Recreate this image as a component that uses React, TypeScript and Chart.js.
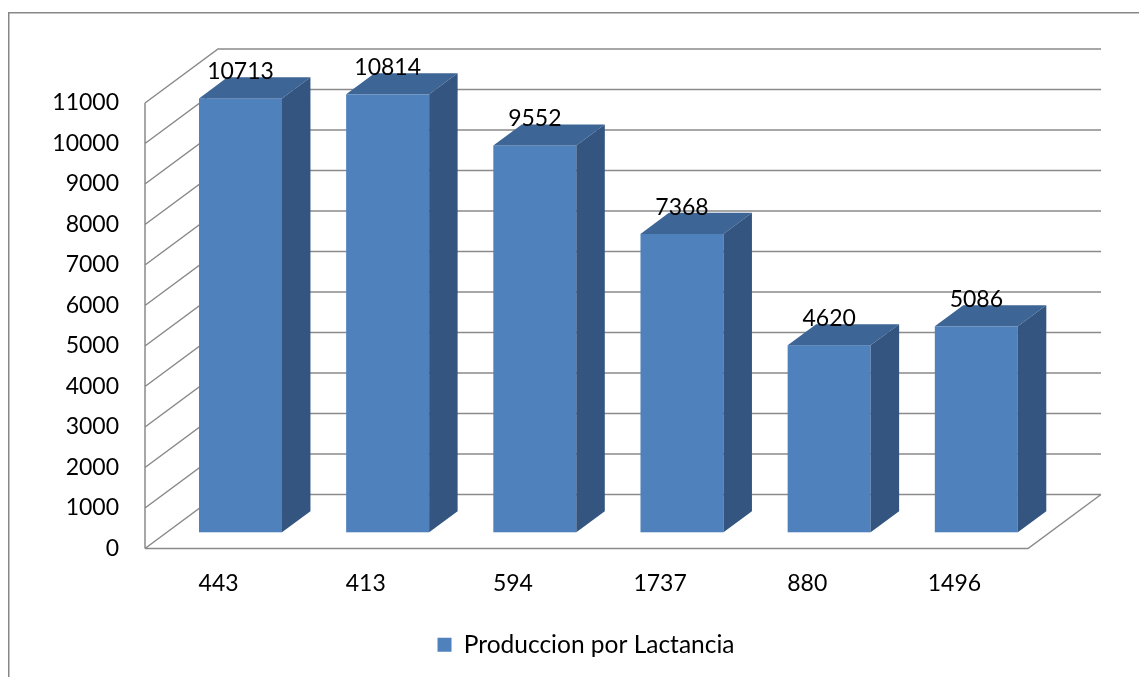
import { useEffect, useRef } from "react";
import { Chart, registerables } from "chart.js";

Chart.register(...registerables);

// Categories (x axis) and the single series of values
const CATEGORIES = ["443", "413", "594", "1737", "880", "1496"];
const PRODUCCION = [10713, 10814, 9552, 7368, 4620, 5086];
const SERIES_LABEL = "Produccion por Lactancia";

// Value axis range and step
const Y_MIN = 0;
const Y_MAX = 11000;
const Y_STEP = 1000;

// Look of the pseudo-3D box
const FONT_FAMILY = "Lato";
const FONT_SIZE = 23;
const LEGEND_FONT_SIZE = 24.5;
const DEPTH_X = 73; // how far the back wall is shifted to the right
const DEPTH_Y = -54; // and upwards
const BAR_FRONT = 0.3; // depth fraction where a bar's front face sits
const BAR_BACK = 0.69; // depth fraction where a bar's back face sits
const COLORS = {
  front: "#4F81BD",
  top: "#3D6595",
  side: "#33557F",
  grid: "#8A8A8A",
  frame: "#878787",
  text: "#000000",
};

const box3d = {
  id: "box3d",
  beforeDraw(chart: any) {
    const ctx = chart.ctx as CanvasRenderingContext2D;
    ctx.save();
    ctx.strokeStyle = COLORS.frame;
    ctx.lineWidth = 1.5;
    ctx.strokeRect(0.75, 4.75, chart.width + 40, chart.height + 40);
    ctx.restore();
  },
  beforeDatasetsDraw(chart: any) {
    const ctx = chart.ctx as CanvasRenderingContext2D;
    const a = chart.chartArea;
    const ys = chart.scales.y;
    ctx.save();
    ctx.strokeStyle = COLORS.grid;
    ctx.lineWidth = 1.5;
    ctx.beginPath();
    // front edge of the left wall
    ctx.moveTo(a.left, ys.getPixelForValue(Y_MAX));
    ctx.lineTo(a.left, ys.getPixelForValue(Y_MIN));
    // side-wall diagonals continuing into back-wall gridlines
    ys.ticks.forEach((t: any) => {
      const py = ys.getPixelForValue(t.value);
      ctx.moveTo(a.left, py);
      ctx.lineTo(a.left + DEPTH_X, py + DEPTH_Y);
      ctx.lineTo(a.right + DEPTH_X, py + DEPTH_Y);
    });
    // floor outline
    const p0 = ys.getPixelForValue(Y_MIN);
    ctx.moveTo(a.left, p0);
    ctx.lineTo(a.right, p0);
    ctx.lineTo(a.right + DEPTH_X, p0 + DEPTH_Y);
    ctx.stroke();
    ctx.restore();
  },
  beforeDatasetDraw() {
    // bars are rendered as boxes in afterDatasetsDraw
    return false;
  },
  afterDatasetsDraw(chart: any) {
    const ctx = chart.ctx as CanvasRenderingContext2D;
    const meta = chart.getDatasetMeta(0);
    const fx = DEPTH_X * BAR_FRONT;
    const fy = DEPTH_Y * BAR_FRONT;
    const dx = DEPTH_X * (BAR_BACK - BAR_FRONT);
    const dy = DEPTH_Y * (BAR_BACK - BAR_FRONT);
    ctx.save();
    meta.data.forEach((bar: any, i: number) => {
      const { x, y, base, width } = bar.getProps(["x", "y", "base", "width"], true);
      const l = x - width / 2 + fx;
      const r = x + width / 2 + fx;
      const t = y + fy;
      const b = base + fy;
      // front face
      ctx.fillStyle = COLORS.front;
      ctx.fillRect(l, t, r - l, b - t);
      // top face
      ctx.fillStyle = COLORS.top;
      ctx.beginPath();
      ctx.moveTo(l, t);
      ctx.lineTo(r, t);
      ctx.lineTo(r + dx, t + dy);
      ctx.lineTo(l + dx, t + dy);
      ctx.closePath();
      ctx.fill();
      // right side face
      ctx.fillStyle = COLORS.side;
      ctx.beginPath();
      ctx.moveTo(r, t);
      ctx.lineTo(r + dx, t + dy);
      ctx.lineTo(r + dx, b + dy);
      ctx.lineTo(r, b);
      ctx.closePath();
      ctx.fill();
      // value label
      ctx.fillStyle = COLORS.text;
      ctx.font = `${FONT_SIZE}px ${FONT_FAMILY}`;
      ctx.textAlign = "center";
      ctx.textBaseline = "alphabetic";
      ctx.fillText(String(PRODUCCION[i]), (l + r) / 2, t + dy + 2);
    });
    ctx.restore();
  },
};

export default function App() {
  const canvasRef = useRef<HTMLCanvasElement | null>(null);

  useEffect(() => {
    document.documentElement.style.overflow = "hidden";
    document.body.style.overflow = "hidden";
    const canvas = canvasRef.current;
    if (!canvas) return;
    const font = { family: FONT_FAMILY, size: FONT_SIZE };
    const chart = new Chart(canvas, {
      type: "bar",
      data: {
        labels: CATEGORIES,
        datasets: [
          {
            label: SERIES_LABEL,
            data: PRODUCCION,
            backgroundColor: COLORS.front,
            borderWidth: 0,
            categoryPercentage: 1,
            barPercentage: 0.564,
          },
        ],
      },
      options: {
        responsive: false,
        animation: false,
        layout: { padding: { left: 17, right: 0, top: 95, bottom: 10 } },
        plugins: {
          legend: {
            position: "bottom",
            labels: {
              boxWidth: 14,
              boxHeight: 14,
              padding: 9,
              color: COLORS.text,
              font: { family: FONT_FAMILY, size: LEGEND_FONT_SIZE },
            },
          },
          tooltip: { enabled: false },
        },
        scales: {
          x: {
            position: "bottom",
            grid: { display: false, drawTicks: false },
            border: { display: false },
            ticks: { color: COLORS.text, font, padding: 21, maxRotation: 0 },
            afterFit: (s: any) => {
              s.height = 75;
            },
          },
          y: {
            position: "left",
            min: Y_MIN,
            max: Y_MAX,
            grid: { display: false, drawTicks: false },
            border: { display: false },
            ticks: {
              stepSize: Y_STEP,
              color: COLORS.text,
              font,
              padding: 26,
              callback: (v: any) => String(v),
            },
            afterFit: (s: any) => {
              s.width = 120;
            },
          },
          yRight: {
            type: "linear",
            position: "right",
            grid: { display: false, drawTicks: false },
            border: { display: false },
            ticks: { display: false },
            afterFit: (s: any) => {
              s.width = 119;
            },
          },
        },
      },
      plugins: [box3d],
    });
    return () => chart.destroy();
  }, []);

  return (
    <div style={{ width: 1139, height: 669 }}>
      <canvas ref={canvasRef} width={1139} height={669} style={{ display: "block" }} />
    </div>
  );
}
